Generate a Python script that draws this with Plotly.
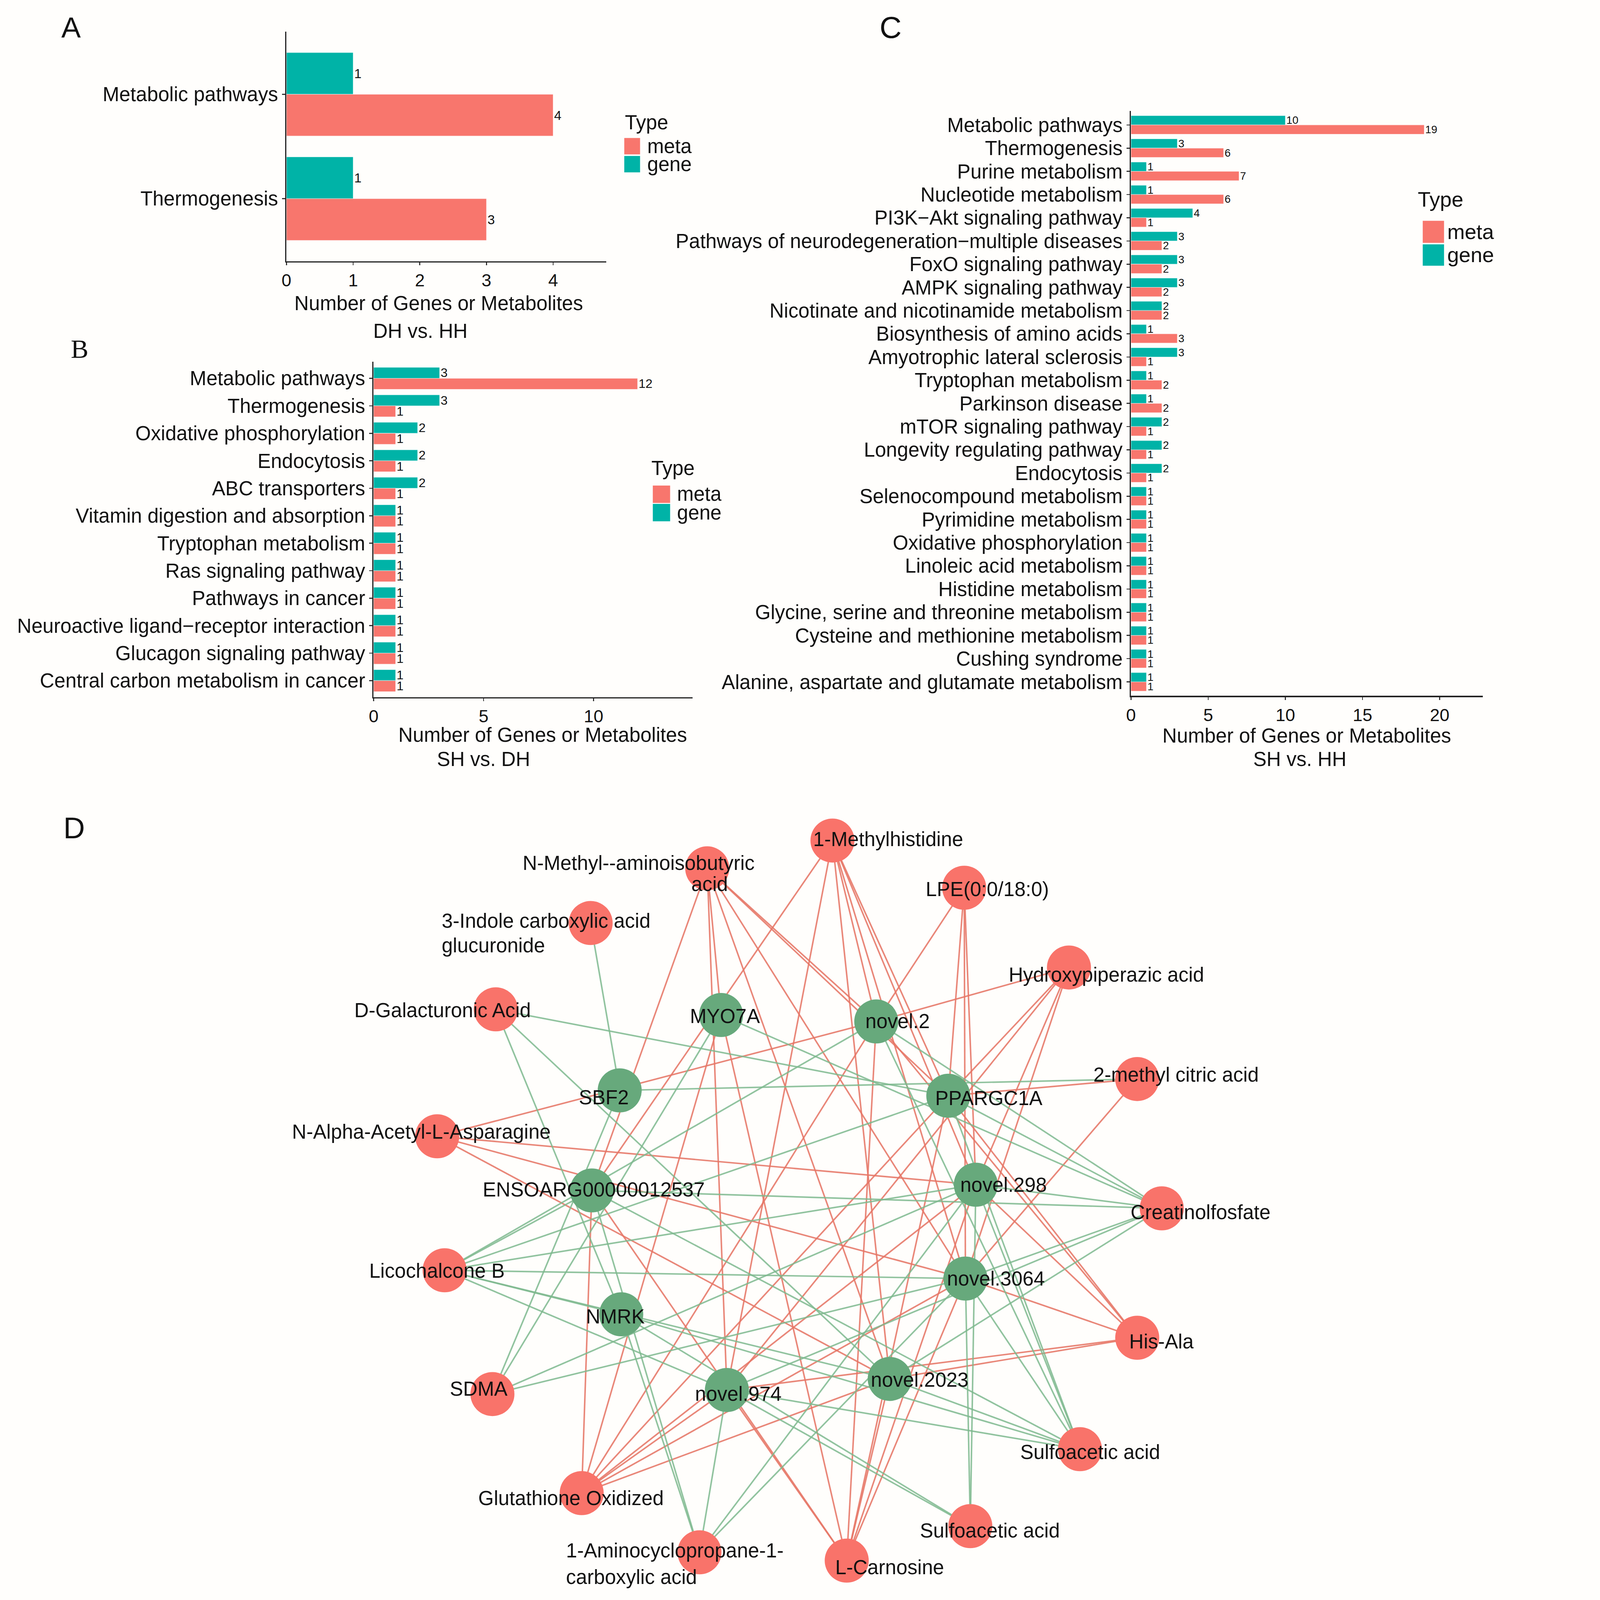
import plotly.graph_objects as go

W, H = 4451, 4724          # page size in px
U = 3.018                  # px per layout unit (layout units = reference /3)

# ------------------------------------------------------------------ data
a_categories = ["Metabolic pathways", "Thermogenesis"]
a_gene = [1, 1]
a_meta = [4, 3]
a_ticks = [0, 1, 2, 3, 4]

b_categories = ["Metabolic pathways", "Thermogenesis", "Oxidative phosphorylation",
                "Endocytosis", "ABC transporters", "Vitamin digestion and absorption",
                "Tryptophan metabolism", "Ras signaling pathway", "Pathways in cancer",
                "Neuroactive ligand\u2212receptor interaction", "Glucagon signaling pathway",
                "Central carbon metabolism in cancer"]
b_gene = [3, 3, 2, 2, 2, 1, 1, 1, 1, 1, 1, 1]
b_meta = [12, 1, 1, 1, 1, 1, 1, 1, 1, 1, 1, 1]
b_ticks = [0, 5, 10]

c_categories = ["Metabolic pathways", "Thermogenesis", "Purine metabolism",
                "Nucleotide metabolism", "PI3K\u2212Akt signaling pathway",
                "Pathways of neurodegeneration\u2212multiple diseases", "FoxO signaling pathway",
                "AMPK signaling pathway", "Nicotinate and nicotinamide metabolism",
                "Biosynthesis of amino acids", "Amyotrophic lateral sclerosis",
                "Tryptophan metabolism", "Parkinson disease", "mTOR signaling pathway",
                "Longevity regulating pathway", "Endocytosis", "Selenocompound metabolism",
                "Pyrimidine metabolism", "Oxidative phosphorylation", "Linoleic acid metabolism",
                "Histidine metabolism", "Glycine, serine and threonine metabolism",
                "Cysteine and methionine metabolism", "Cushing syndrome",
                "Alanine, aspartate and glutamate metabolism"]
c_gene = [10, 3, 1, 1, 4, 3, 3, 3, 2, 1, 3, 1, 1, 2, 2, 2, 1, 1, 1, 1, 1, 1, 1, 1, 1]
c_meta = [19, 6, 7, 6, 1, 2, 2, 2, 2, 3, 1, 2, 2, 1, 1, 1, 1, 1, 1, 1, 1, 1, 1, 1, 1]
c_ticks = [0, 5, 10, 15, 20]

# network nodes (layout coordinates)
node_ids = ["NMe", "1Me", "LPE", "3IC", "Hyd", "DGA", "2MC", "NAA", "CF", "LB", "HA",
            "SDMA", "SA1", "GO", "SA2", "ACC", "LC",
            "MYO7A", "novel.2", "SBF2", "PPARGC1A", "ENSOARG", "novel.298",
            "novel.3064", "NMRK", "novel.974", "novel.2023"]
node_type = ["meta"] * 17 + ["gene"] * 10
node_x = [689.4, 812.3, 941.6, 575.0, 1044.4, 481.9, 1111.4, 424.4, 1135.5, 431.7, 1111.4,
          478.6, 1055.2, 566.2, 947.6, 681.8, 826.3,
          703.0, 855.3, 603.5, 926.0, 576.2, 953.0, 942.8, 605.0, 708.7, 868.5]
node_y = [849.5, 822.3, 868.5, 903.0, 946.5, 987.4, 1055.6, 1111.6, 1182.1, 1242.7, 1308.7,
          1363.8, 1417.7, 1460.7, 1493.0, 1518.6, 1526.7,
          993.0, 999.3, 1066.7, 1072.0, 1164.6, 1159.0, 1250.8, 1285.8, 1359.8, 1349.0]

pos_edges = [("NMe", "ENSOARG"), ("NMe", "MYO7A"), ("NMe", "novel.974"), ("NMe", "novel.2"),
             ("NMe", "PPARGC1A"), ("NMe", "novel.3064"), ("NMe", "novel.2023"),
             ("1Me", "ENSOARG"), ("1Me", "novel.974"), ("1Me", "novel.2"), ("1Me", "novel.3064"),
             ("1Me", "PPARGC1A"), ("1Me", "novel.298"), ("1Me", "novel.2023"),
             ("LPE", "novel.2"), ("LPE", "PPARGC1A"), ("LPE", "novel.298"), ("LPE", "novel.3064"),
             ("Hyd", "novel.2"), ("Hyd", "PPARGC1A"), ("Hyd", "novel.974"), ("Hyd", "novel.298"),
             ("Hyd", "novel.3064"),
             ("2MC", "PPARGC1A"), ("2MC", "novel.3064"),
             ("NAA", "novel.2"), ("NAA", "novel.298"), ("NAA", "novel.3064"), ("NAA", "novel.2023"),
             ("GO", "ENSOARG"), ("GO", "MYO7A"), ("GO", "novel.2"), ("GO", "PPARGC1A"),
             ("GO", "novel.298"), ("GO", "novel.3064"), ("GO", "novel.974"), ("GO", "novel.2023"),
             ("LC", "novel.974"), ("LC", "ENSOARG"), ("LC", "MYO7A"), ("LC", "novel.2"),
             ("LC", "PPARGC1A"), ("LC", "novel.2023"), ("LC", "novel.3064"), ("LC", "novel.298"),
             ("HA", "novel.3064"), ("HA", "novel.2023"), ("HA", "novel.974"), ("HA", "PPARGC1A"),
             ("HA", "novel.2"), ("HA", "novel.298")]
neg_edges = [("3IC", "SBF2"),
             ("DGA", "PPARGC1A"), ("DGA", "novel.2023"), ("DGA", "NMRK"),
             ("2MC", "SBF2"),
             ("CF", "novel.2"), ("CF", "PPARGC1A"), ("CF", "MYO7A"), ("CF", "novel.298"),
             ("CF", "novel.3064"), ("CF", "novel.974"), ("CF", "novel.2023"), ("CF", "ENSOARG"),
             ("LB", "ENSOARG"), ("LB", "novel.2"), ("LB", "novel.298"), ("LB", "novel.3064"),
             ("LB", "novel.2023"), ("LB", "novel.974"), ("LB", "NMRK"), ("LB", "PPARGC1A"),
             ("SDMA", "SBF2"), ("SDMA", "MYO7A"), ("SDMA", "novel.298"), ("SDMA", "novel.3064"),
             ("ACC", "NMRK"), ("ACC", "ENSOARG"), ("ACC", "novel.974"), ("ACC", "novel.298"),
             ("ACC", "novel.3064"),
             ("SA2", "novel.298"), ("SA2", "novel.3064"), ("SA2", "NMRK"), ("SA2", "novel.974"),
             ("SA1", "novel.298"), ("SA1", "PPARGC1A"), ("SA1", "novel.2"), ("SA1", "novel.3064"),
             ("SA1", "novel.2023"), ("SA1", "novel.974"), ("SA1", "NMRK"), ("SA1", "ENSOARG")]

# label text lines for each node
node_labels = {
    "NMe": ["N-Methyl--aminoisobutyric", "acid"], "1Me": ["1-Methylhistidine"],
    "LPE": ["LPE(0:0/18:0)"], "3IC": ["3-Indole carboxylic acid", "glucuronide"],
    "Hyd": ["Hydroxypiperazic acid"], "DGA": ["D-Galacturonic Acid"],
    "2MC": ["2-methyl citric acid"], "NAA": ["N-Alpha-Acetyl-L-Asparagine"],
    "CF": ["Creatinolfosfate"], "LB": ["Licochalcone B"], "HA": ["His-Ala"],
    "SDMA": ["SDMA"], "SA1": ["Sulfoacetic acid"], "GO": ["Glutathione Oxidized"],
    "SA2": ["Sulfoacetic acid"], "ACC": ["1-Aminocyclopropane-1-", "carboxylic acid"],
    "LC": ["L-Carnosine"], "MYO7A": ["MYO7A"], "novel.2": ["novel.2"], "SBF2": ["SBF2"],
    "PPARGC1A": ["PPARGC1A"], "ENSOARG": ["ENSOARG00000012537"], "novel.298": ["novel.298"],
    "novel.3064": ["novel.3064"], "NMRK": ["NMRK"], "novel.974": ["novel.974"],
    "novel.2023": ["novel.2023"],
}

# ------------------------------------------------------------------ layout helpers
# label placement (x, y, xanchor) per text line, in layout units
label_place = {
    "NMe": [(507.7, 844.4, "left"), (673.0, 865.0, "left")],
    "1Me": [(792.7, 821.1, "left")], "LPE": [(903.0, 870.0, "left")],
    "3IC": [(428.0, 901.0, "left"), (428.0, 925.0, "left")],
    "Hyd": [(984.5, 953.6, "left")], "DGA": [(517.0, 988.5, "right")],
    "2MC": [(1067.8, 1051.3, "left")], "NAA": [(536.5, 1107.5, "right")],
    "CF": [(1104.3, 1185.9, "left")], "LB": [(491.4, 1243.5, "right")],
    "HA": [(1103.0, 1312.6, "left")], "SDMA": [(436.0, 1359.0, "left")],
    "SA1": [(996.0, 1420.7, "left")], "GO": [(464.0, 1466.0, "left")],
    "SA2": [(897.4, 1497.4, "left")],
    "ACC": [(550.0, 1517.0, "left"), (550.0, 1543.0, "left")],
    "LC": [(814.3, 1533.5, "left")], "MYO7A": [(671.6, 994.3, "left")],
    "novel.2": [(843.9, 999.0, "left")], "SBF2": [(562.8, 1073.4, "left")],
    "PPARGC1A": [(912.5, 1074.5, "left")], "ENSOARG": [(468.2, 1164.0, "left")],
    "novel.298": [(936.9, 1159.4, "left")], "novel.3064": [(924.0, 1251.0, "left")],
    "NMRK": [(569.8, 1288.2, "left")], "novel.974": [(676.7, 1363.7, "left")],
    "novel.2023": [(849.2, 1349.8, "left")],
}


def px(x):
    return x * U / W


def py(y):
    return 1 - y * U / H


FONT = "Arial, Liberation Sans, sans-serif"
META_C = "#F8766D"
GENE_C = "#00B3A7"
BG = "#FFFEFC"

fig = go.Figure()

panels = [
    dict(cats=a_categories, gene=a_gene, meta=a_meta, ticks=a_ticks, xr=[0, 4.8],
         dom_x=(276.5, 590.5), dom_y=(31.0, 255.6), xa="x", ya="y", vsize=39),
    dict(cats=b_categories, gene=b_gene, meta=b_meta, ticks=b_ticks, xr=[0, 14.5],
         dom_x=(362.0, 675.0), dom_y=(354.0, 682.0), xa="x2", ya="y2", vsize=37),
    dict(cats=c_categories, gene=c_gene, meta=c_meta, ticks=c_ticks, xr=[0, 22.8],
         dom_x=(1105.3, 1450.6), dom_y=(108.6, 680.7), xa="x3", ya="y3", vsize=32),
]

for p in panels:
    for name, vals, col in (("gene", p["gene"], GENE_C), ("meta", p["meta"], META_C)):
        fig.add_trace(go.Bar(
            x=vals, y=p["cats"], orientation="h", name=name, showlegend=False,
            marker=dict(color=col, line=dict(color="rgba(255,255,255,0.6)", width=1.5)),
            text=[str(v) for v in vals], textposition="outside",
            textfont=dict(size=p["vsize"], color="#111", family=FONT),
            constraintext="none", cliponaxis=False,
            xaxis=p["xa"], yaxis=p["ya"]))

layout_axes = {}
for i, p in enumerate(panels):
    sfx = "" if i == 0 else str(i + 1)
    n = len(p["cats"])
    layout_axes["xaxis" + sfx] = dict(
        domain=[px(p["dom_x"][0]), px(p["dom_x"][1])], range=p["xr"],
        anchor="y" + sfx, showgrid=False, zeroline=False,
        showline=True, linecolor="#222", linewidth=4,
        ticks="outside", ticklen=8, tickwidth=3, tickcolor="#333",
        tickmode="array", tickvals=p["ticks"],
        tickfont=dict(size=52, color="#111", family=FONT))
    layout_axes["yaxis" + sfx] = dict(
        domain=[py(p["dom_y"][1]), py(p["dom_y"][0])],
        type="category", categoryorder="array", categoryarray=p["cats"],
        tickmode="array", tickvals=p["cats"], ticktext=p["cats"],
        range=[n - 1 + 0.6, -0.6], anchor="x" + sfx,
        showgrid=False, zeroline=False, showline=True, linecolor="#222", linewidth=4,
        ticks="outside", ticklen=9, tickwidth=3, tickcolor="#333",
        tickfont=dict(size=59, color="#111", family=FONT))

# network axes cover the whole page in layout units
layout_axes["xaxis4"] = dict(domain=[0, 1], range=[0, W / U], visible=False, anchor="y4")
layout_axes["yaxis4"] = dict(domain=[0, 1], range=[H / U, 0], visible=False, anchor="x4")

# ------------------------------------------------------------------ network
idx = {n: i for i, n in enumerate(node_ids)}


def edge_xy(edges):
    xs, ys = [], []
    for a, b in edges:
        xs += [node_x[idx[a]], node_x[idx[b]], None]
        ys += [node_y[idx[a]], node_y[idx[b]], None]
    return xs, ys


ex, ey = edge_xy(pos_edges)
fig.add_trace(go.Scatter(x=ex, y=ey, mode="lines", showlegend=False, hoverinfo="skip",
                         line=dict(color="rgba(230,118,102,0.88)", width=4.5),
                         xaxis="x4", yaxis="y4"))
ex, ey = edge_xy(neg_edges)
fig.add_trace(go.Scatter(x=ex, y=ey, mode="lines", showlegend=False, hoverinfo="skip",
                         line=dict(color="rgba(126,184,142,0.85)", width=4.5),
                         xaxis="x4", yaxis="y4"))

fig.add_trace(go.Scatter(
    x=node_x, y=node_y, mode="markers", showlegend=False, hoverinfo="skip",
    marker=dict(size=130, line=dict(width=0),
                color=[("#F9736A" if t == "meta" else "#67A97C") for t in node_type]),
    xaxis="x4", yaxis="y4"))

annotations = []
for nid in node_ids:
    for text, (lx, ly, anc) in zip(node_labels[nid], label_place[nid]):
        annotations.append(dict(x=lx, y=ly, xref="x4", yref="y4", text=text,
                                showarrow=False, xanchor=anc, yanchor="middle",
                                font=dict(size=59, color="#111", family=FONT)))


def ann(text, x, y, size=59, anchor="center", family=FONT):
    annotations.append(dict(x=px(x), y=py(y), xref="paper", yref="paper", text=text,
                            showarrow=False, xanchor=anchor, yanchor="middle",
                            font=dict(size=size, color="#111", family=family)))


# axis titles (two lines each)
ann("Number of Genes or Metabolites", 426, 297)
ann("DH vs. HH", 408, 324)
ann("Number of Genes or Metabolites", 528, 719)
ann("SH vs. DH", 470, 743)
ann("Number of Genes or Metabolites", 1278, 720)
ann("SH vs. HH", 1271, 743)

# panel letters
ann("A", 55, 27, size=86, anchor="left")
ann("B", 64, 341, size=78, anchor="left", family="Times New Roman, Liberation Serif, serif")
ann("C", 858, 27, size=90, anchor="left")
ann("D", 57, 810, size=88, anchor="left")

# legends
shapes = []
legends = [
    dict(tx=608, ty=120, sx=(608, 623.5), meta_y=(135, 151), gene_y=(152.6, 168.6),
         lx=630, size=59),
    dict(tx=634, ty=458, sx=(636, 653), meta_y=(475, 492), gene_y=(493, 510),
         lx=659, size=59),
    dict(tx=1386, ty=195, sx=(1391.6, 1412.5), meta_y=(216, 237.6), gene_y=(239, 260),
         lx=1415, size=62),
]
for lg in legends:
    ann("Type", lg["tx"], lg["ty"], size=lg["size"], anchor="left")
    for key, col, lab in (("meta_y", META_C, "meta"), ("gene_y", GENE_C, "gene")):
        y0, y1 = lg[key]
        shapes.append(dict(type="rect", xref="paper", yref="paper",
                           x0=px(lg["sx"][0]), x1=px(lg["sx"][1]), y0=py(y1), y1=py(y0),
                           fillcolor=col, line=dict(width=0)))
        ann(lab, lg["lx"], (y0 + y1) / 2, size=lg["size"], anchor="left")

fig.update_layout(
    width=W, height=H, margin=dict(l=0, r=0, t=0, b=0),
    paper_bgcolor=BG, plot_bgcolor="rgba(0,0,0,0)",
    barmode="group", bargap=0.2, bargroupgap=0.0,
    font=dict(family=FONT, color="#111"),
    annotations=annotations, shapes=shapes, showlegend=False,
    **layout_axes)

# make the fixed-size figure fit the browser viewport exactly (no body margin, no crop)
fit_js = """
var gd = document.getElementById('{plot_id}');
document.documentElement.style.margin = '0';
document.documentElement.style.overflow = 'hidden';
document.body.style.margin = '0';
document.body.style.overflow = 'hidden';
document.body.style.background = '%s';
var s = Math.min(window.innerWidth / %d, window.innerHeight / %d);
gd.style.transformOrigin = '0 0';
gd.style.transform = 'scale(' + s + ')';
""" % (BG, W, H)

fig.write_html("out.html", post_script=fit_js, config={"displayModeBar": False})
